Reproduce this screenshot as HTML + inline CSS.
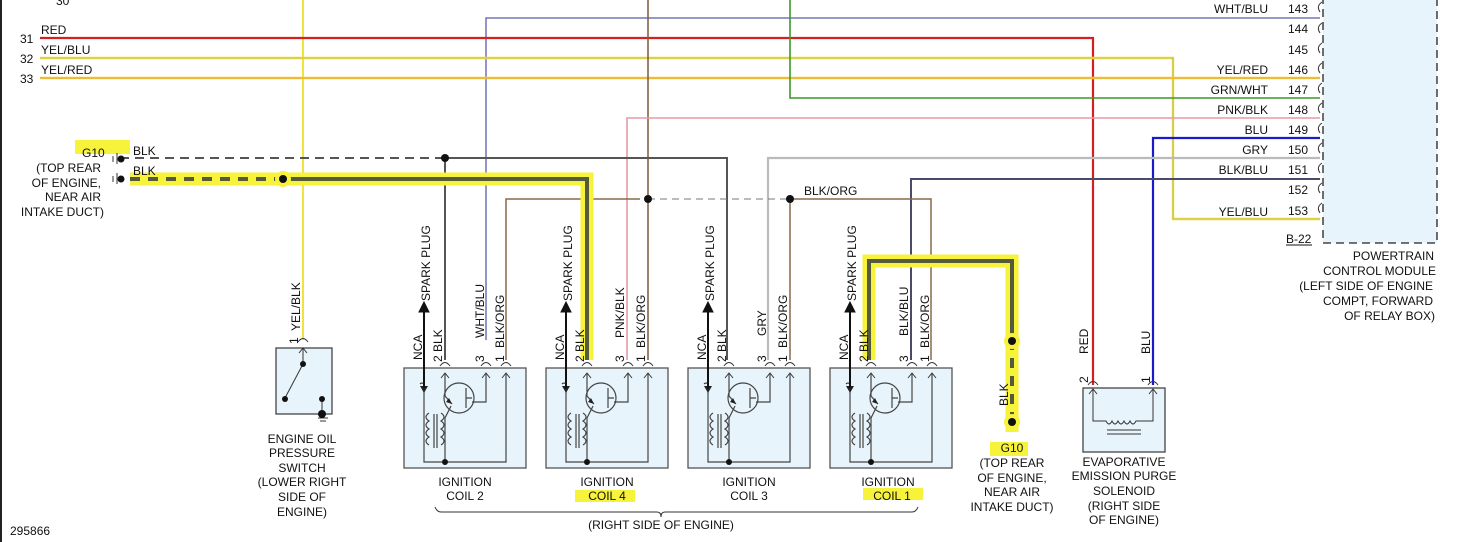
<!DOCTYPE html>
<html><head><meta charset="utf-8"><style>
html,body{margin:0;padding:0;background:#fff;}
svg{display:block;font-family:"Liberation Sans",sans-serif;}
text{font-size:12px;fill:#111;}
</style></head><body>
<svg width="1465" height="542" viewBox="0 0 1465 542" xmlns="http://www.w3.org/2000/svg">
<defs>
<g id="coil">
  <rect x="0" y="0" width="122" height="100" fill="#e8f4fb" stroke="#555" stroke-width="1.3"/>
  <g fill="none" stroke="#333" stroke-width="1">
    <path d="M36,-2 Q41,-9 46,-2 M37,10 L41,5 L45,10"/>
    <path d="M77,-2 Q82,-9 87,-2 M78,10 L82,5 L86,10"/>
    <path d="M97,-2 Q102,-9 107,-2 M98,10 L102,5 L106,10"/>
  </g>
  <g fill="none" stroke="#444" stroke-width="1.2">
    <path d="M20,18 V94 H102 V5"/>
    <path d="M41,5 V28 L48,36"/>
    <path d="M82,5 V34 H68"/>
    <circle cx="55" cy="30" r="15"/>
    <path d="M62,20 V40 M62,30 H68"/>
    <path d="M47,38 L41,50 V94"/>
    <path d="M25,45 q-6,4 0,8 q-6,4 0,8 q-6,4 0,8 q-6,4 0,8" />
    <path d="M37,45 q6,4 0,8 q6,4 0,8 q6,4 0,8 q6,4 0,8" />
    <path d="M30,46 V80 M33,46 V80"/>
  </g>
  <path d="M16,18 L24,18 L20,25 Z" fill="#222"/>
  <path d="M16,16 q2,-2 4,0" stroke="#222" fill="none"/>
  <path d="M48,36 l-6,-2 3,-4 z" fill="#222"/>
  <circle cx="41" cy="94" r="3" fill="#111"/>
</g>
</defs>

<line x1="1" y1="0" x2="1" y2="542" stroke="#222" stroke-width="2"/>

<rect x="1323" y="-5" width="114" height="248" fill="#e8f4fb" stroke="#222" stroke-width="1.3" stroke-dasharray="8,5"/>

<g fill="none" stroke-width="2">
  <path d="M303,0 V340" stroke="#f2e23a"/>
  <path d="M486,340 V18 H1320" stroke="#5a5aa8" stroke-width="1.3"/>
  <path d="M40,38 H1093 V385" stroke="#d42020" stroke-width="2.2"/>
  <path d="M40,58 H1173 V219 H1320" stroke="#ede040" stroke-width="2.4"/>
  <path d="M40,58 H1173 V219 H1320" stroke="#a8a060" stroke-width="0.6"/>
  <path d="M40,78 H1320" stroke="#f5d840" stroke-width="2.4"/>
  <path d="M40,78 H1320" stroke="#e08a30" stroke-width="0.7"/>
  <path d="M648,0 V360" stroke="#7a5a3a" stroke-width="1.5"/>
  <path d="M790,0 V98 H1320" stroke="#3a9a2a" stroke-width="1.6"/>
  <path d="M627,360 V118 H1320" stroke="#e49aa8" stroke-width="1.6"/>
  <path d="M1153,385 V138 H1320" stroke="#1a1acc" stroke-width="2.2"/>
  <path d="M768,360 V158 H1320" stroke="#bbb" stroke-width="2.2"/>
  <path d="M911,360 V179 H1320" stroke="#4a4a6a" stroke-width="2"/>
  <path d="M120,158 H445" stroke="#555" stroke-dasharray="9,6"/>
  <path d="M445,158 H727 V360 M445,158 V360" stroke="#555"/>
  <path d="M506,360 V199 H640" stroke="#8a6a4a" stroke-width="1.5"/>
  <path d="M648,199 H790" stroke="#777" stroke-width="1" stroke-dasharray="7,5"/>
  <path d="M790,199 H931 V360 M790,199 V360" stroke="#8a6a4a" stroke-width="1.5"/>
  <path d="M130,179 H587 V360" stroke="#f7f23a" stroke-width="13"/>
  <path d="M283,179 H587 V360" stroke="#555a3a" stroke-width="4"/>
  <path d="M130,179 H283" stroke="#555a3a" stroke-width="4" stroke-dasharray="10,8"/>
  <path d="M869,360 V261 H1012 V432" stroke="#f7f23a" stroke-width="13"/>
  <path d="M869,360 V261 H1012 V340" stroke="#555a3a" stroke-width="4"/>
  <path d="M1012,340 V422" stroke="#555a3a" stroke-width="4" stroke-dasharray="10,8"/>
</g>
<rect x="75" y="140" width="55" height="14" fill="#f7f23a"/>
<rect x="990" y="442" width="38" height="14" fill="#f7f23a"/>
<rect x="575" y="490" width="60" height="12" fill="#f7f23a"/>
<rect x="863" y="488" width="60" height="12" fill="#f7f23a"/>
<g fill="#111">
  <circle cx="283" cy="179" r="8" fill="#f7f23a"/><circle cx="283" cy="179" r="4"/>
  <circle cx="1012" cy="341" r="8" fill="#f7f23a"/><circle cx="1012" cy="341" r="4"/>
  <circle cx="1012" cy="422" r="8" fill="#f7f23a"/><circle cx="1012" cy="422" r="4"/>
  <circle cx="445" cy="158" r="4"/><circle cx="648" cy="199" r="4"/><circle cx="790" cy="199" r="4"/>
  <circle cx="121" cy="159" r="3.5"/><circle cx="121" cy="179" r="3.5"/>
</g>
<path d="M117,153 V164 M113,156 V162 M117,173 V184 M113,176 V182" stroke="#333"/>

<text x="56" y="5">30</text>
<text x="20" y="43">31</text><text x="41" y="34">RED</text>
<text x="20" y="63">32</text><text x="41" y="54">YEL/BLU</text>
<text x="20" y="83">33</text><text x="41" y="74">YEL/RED</text>
<text x="82" y="157">G10</text><text x="133" y="155">BLK</text><text x="133" y="175">BLK</text>
<g text-anchor="end"><text x="101" y="172">(TOP REAR</text><text x="101" y="187">OF ENGINE,</text><text x="101" y="201">NEAR AIR</text><text x="104" y="216">INTAKE DUCT)</text></g>

<g text-anchor="end">
<text x="1268" y="13">WHT/BLU</text><text x="1268" y="74">YEL/RED</text><text x="1268" y="94">GRN/WHT</text>
<text x="1268" y="114">PNK/BLK</text><text x="1268" y="134">BLU</text><text x="1268" y="154">GRY</text>
<text x="1268" y="174">BLK/BLU</text><text x="1268" y="216">YEL/BLU</text>
<text x="1308" y="13">143</text><text x="1308" y="33">144</text><text x="1308" y="54">145</text><text x="1308" y="74">146</text>
<text x="1308" y="94">147</text><text x="1308" y="114">148</text><text x="1308" y="134">149</text><text x="1308" y="154">150</text>
<text x="1308" y="174">151</text><text x="1308" y="194">152</text><text x="1308" y="215">153</text>
<text x="1434" y="260">POWERTRAIN</text><text x="1436" y="275">CONTROL MODULE</text>
<text x="1433" y="290">(LEFT SIDE OF ENGINE</text><text x="1433" y="305">COMPT, FORWARD</text><text x="1435" y="320">OF RELAY BOX)</text>
</g>
<g fill="none" stroke="#333" stroke-width="1">
<path d="M1322,2 q-6,4 -2,10 M1322,23 q-6,4 -2,10 M1322,43 q-6,4 -2,10 M1322,63 q-6,4 -2,10 M1322,83 q-6,4 -2,10 M1322,103 q-6,4 -2,10 M1322,123 q-6,4 -2,10 M1322,143 q-6,4 -2,10 M1322,163 q-6,4 -2,10 M1322,183 q-6,4 -2,10 M1322,203 q-6,4 -2,10"/>
</g>
<text x="1286" y="243">B-22</text><line x1="1286" y1="245" x2="1312" y2="245" stroke="#111"/>

<use href="#coil" x="404" y="368"/>
<use href="#coil" x="546" y="368"/>
<use href="#coil" x="688" y="368"/>
<use href="#coil" x="830" y="368"/>
<g stroke="#111" stroke-width="2" fill="#111">
  <path d="M424,388 V310 M566,388 V310 M708,388 V310 M850,388 V310" />
  <path d="M419,312 L424,302 L429,312 Z M561,312 L566,302 L571,312 Z M703,312 L708,302 L713,312 Z M845,312 L850,302 L855,312 Z" stroke-width="1"/>
</g>
<g font-size="12">
<text transform="translate(422,360) rotate(-90)">NCA</text><text transform="translate(430,301) rotate(-90)">SPARK PLUG</text>
<text transform="translate(442,362) rotate(-90)">2 BLK</text>
<text transform="translate(484,362) rotate(-90)">3</text><text transform="translate(484,338) rotate(-90)">WHT/BLU</text>
<text transform="translate(504,362) rotate(-90)">1</text><text transform="translate(504,348) rotate(-90)">BLK/ORG</text>

<text transform="translate(564,360) rotate(-90)">NCA</text><text transform="translate(572,301) rotate(-90)">SPARK PLUG</text>
<text transform="translate(584,362) rotate(-90)">2 BLK</text>
<text transform="translate(624,362) rotate(-90)">3</text><text transform="translate(624,338) rotate(-90)">PNK/BLK</text>
<text transform="translate(645,362) rotate(-90)">1</text><text transform="translate(645,348) rotate(-90)">BLK/ORG</text>

<text transform="translate(706,360) rotate(-90)">NCA</text><text transform="translate(714,301) rotate(-90)">SPARK PLUG</text>
<text transform="translate(726,362) rotate(-90)">2 BLK</text>
<text transform="translate(766,362) rotate(-90)">3</text><text transform="translate(766,336) rotate(-90)">GRY</text>
<text transform="translate(787,362) rotate(-90)">1</text><text transform="translate(787,348) rotate(-90)">BLK/ORG</text>

<text transform="translate(848,360) rotate(-90)">NCA</text><text transform="translate(856,301) rotate(-90)">SPARK PLUG</text>
<text transform="translate(868,362) rotate(-90)">2 BLK</text>
<text transform="translate(908,362) rotate(-90)">3</text><text transform="translate(908,336) rotate(-90)">BLK/BLU</text>
<text transform="translate(929,362) rotate(-90)">1</text><text transform="translate(929,348) rotate(-90)">BLK/ORG</text>

<text transform="translate(300,331) rotate(-90)">YEL/BLK</text>
<text transform="translate(298,344) rotate(-90)">1</text>
<text transform="translate(1088,354) rotate(-90)">RED</text>
<text transform="translate(1088,383) rotate(-90)">2</text>
<text transform="translate(1150,354) rotate(-90)">BLU</text>
<text transform="translate(1150,383) rotate(-90)">1</text>
<text transform="translate(1008,406) rotate(-90)">BLK</text>
</g>
<text x="804" y="195">BLK/ORG</text>

<g text-anchor="middle">
<text x="465" y="486">IGNITION</text><text x="465" y="500">COIL 2</text>
<text x="607" y="486">IGNITION</text><text x="607" y="500">COIL 4</text>
<text x="749" y="486">IGNITION</text><text x="749" y="500">COIL 3</text>
<text x="888" y="486">IGNITION</text><text x="892" y="500">COIL 1</text>
<text x="661" y="529">(RIGHT SIDE OF ENGINE)</text>
<text x="302" y="443">ENGINE OIL</text><text x="302" y="457">PRESSURE</text><text x="302" y="472">SWITCH</text>
<text x="302" y="486">(LOWER RIGHT</text><text x="302" y="501">SIDE OF</text><text x="302" y="516">ENGINE)</text>
<text x="1012" y="452">G10</text><text x="1012" y="467">(TOP REAR</text><text x="1012" y="482">OF ENGINE,</text>
<text x="1012" y="496">NEAR AIR</text><text x="1012" y="511">INTAKE DUCT)</text>
<text x="1124" y="466">EVAPORATIVE</text><text x="1124" y="480">EMISSION PURGE</text><text x="1124" y="495">SOLENOID</text>
<text x="1124" y="510">(RIGHT SIDE</text><text x="1124" y="524">OF ENGINE)</text>
</g>
<text x="10" y="535">295866</text>
<path d="M435,507 q2,5 6,5 H657 q4,0 4,5 q0,-5 4,-5 H912 q4,0 6,-5" fill="none" stroke="#333"/>

<rect x="276" y="348" width="56" height="66" fill="#e8f4fb" stroke="#444" stroke-width="1.3"/>
<g fill="none" stroke="#333" stroke-width="1">
<path d="M298,342 Q303,335 308,342 M299,353 L303,348 L307,353"/>
<path d="M303,348 V364 L285,398 M322,398 V414 M318,418 H328 M320,421 H326"/>
</g>
<g fill="#111"><circle cx="303" cy="364" r="3"/><circle cx="285" cy="399" r="3"/><circle cx="322" cy="399" r="3"/><circle cx="322" cy="414" r="4"/></g>

<rect x="1083" y="388" width="82" height="64" fill="#e8f4fb" stroke="#444" stroke-width="1.3"/>
<g fill="none" stroke="#333" stroke-width="1">
<path d="M1088,385 Q1093,378 1098,385 M1089,394 L1093,389 L1097,394 M1148,385 Q1153,378 1158,385 M1149,394 L1153,389 L1157,394"/>
<path d="M1093,389 V421 H1106 q3,6 6,0 q3,6 6,0 q3,6 6,0 q3,6 6,0 q3,6 6,0 H1153 V389"/>
<path d="M1107,430 H1141 M1107,434 H1141"/>
</g>
</svg>
</body></html>
